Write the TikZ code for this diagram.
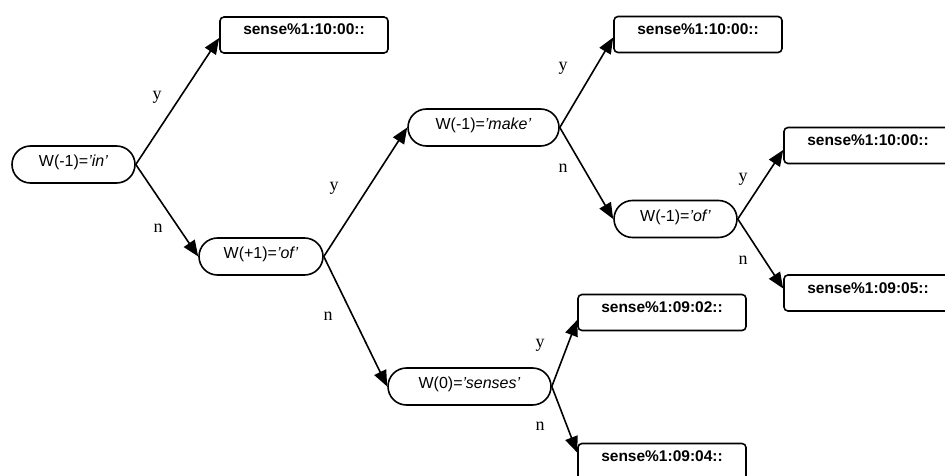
\documentclass[tikz,border=0pt]{standalone}
\usepackage{fontspec}
\setmainfont{Liberation Serif}
\setsansfont{Liberation Sans}
\usetikzlibrary{arrows.meta}
\tikzset{
    test/.style={draw, line width=1.6pt, rounded corners=18.5pt, minimum height=37pt, inner sep=0pt,
        font=\sffamily\fontsize{16}{19}\selectfont, text height=11pt, text depth=7pt},
    sense/.style={draw, line width=1.6pt, rounded corners=4pt, minimum width=168pt, minimum height=36pt, inner sep=0pt,
        font=\sffamily\bfseries\fontsize{15.5}{18}\selectfont, text height=8pt, text depth=8pt},
    branch/.style={line width=1.6pt, -{Triangle[length=16pt,width=13pt]}},
    answer/.style={font=\fontsize{18}{20}\selectfont, inner sep=0pt},
}

\begin{document}
\begin{tikzpicture}[x=1pt,y=-1pt]
\useasboundingbox (0,0) rectangle (945,476);
\clip (0,0) rectangle (945,476);
% tests
\node[test,minimum width=123pt] (A) at (73.5,164.5) {W(-1)=\textit{'in'}};
\node[test,minimum width=124pt] (B) at (261,256.5) {W(+1)=\textit{'of'}};
\node[test,minimum width=151pt] (C) at (483.5,127.5) {W(-1)=\textit{'make'}};
\node[test,minimum width=123pt] (D) at (675.5,219) {W(-1)=\textit{'of'}};
\node[test,minimum width=163pt] (E) at (469.5,386.5) {W(0)=\textit{'senses'}};
% senses
\node[sense] (S1) at (304,35) {sense\%1:10:00::};
\node[sense] (S2) at (698,34.5) {sense\%1:10:00::};
\node[sense] (S3) at (868,145.5) {sense\%1:10:00::};
\node[sense] (S4) at (868,293) {sense\%1:09:05::};
\node[sense] (S5) at (662,312.5) {sense\%1:09:02::};
\node[sense] (S6) at (662,461.5) {sense\%1:09:04::};
% branches
\draw[branch] (A.east) -- (S1.182);
\draw[branch] (A.east) -- (B.west);
\draw[branch] (B.east) -- (C.west);
\draw[branch] (B.east) -- (E.west);
\draw[branch] (C.east) -- (S2.182);
\draw[branch] (C.east) -- (D.west);
\draw[branch] (D.east) -- (S3.183);
\draw[branch] (D.east) -- (S4.177);
\draw[branch] (E.east) -- (S5.185);
\draw[branch] (E.east) -- (S6.174);
% answers
\node[answer] (yA) at (157,97) {y};
\node[answer] (nA) at (158,228) {n};
\node[answer] (yB) at (334,188) {y};
\node[answer] (nB) at (328,316) {n};
\node[answer] (yC) at (563,68) {y};
\node[answer] (nC) at (563,168) {n};
\node[answer] (yD) at (743,179) {y};
\node[answer] (nD) at (743,260) {n};
\node[answer] (yE) at (540,345) {y};
\node[answer] (nE) at (540,426) {n};
\end{tikzpicture}
\end{document}
